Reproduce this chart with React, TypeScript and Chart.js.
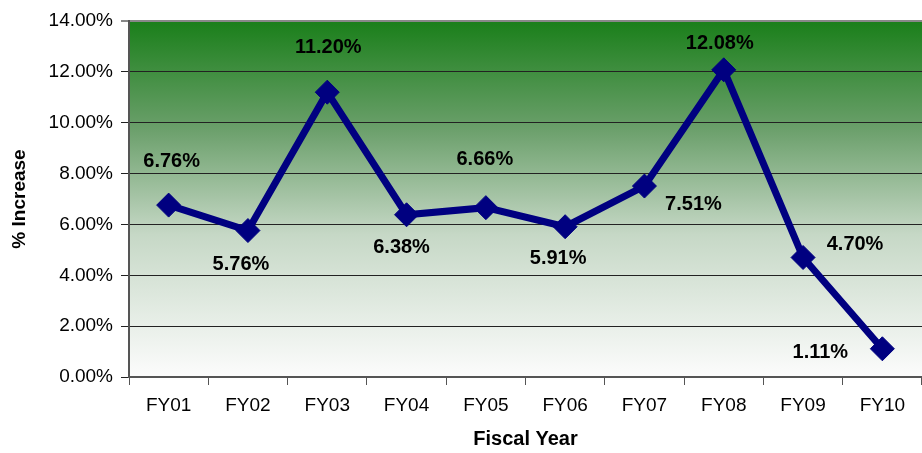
import React, { useEffect, useRef } from "react";
import { Chart, registerables } from "chart.js";

Chart.register(...registerables);

const categories = ["FY01", "FY02", "FY03", "FY04", "FY05", "FY06", "FY07", "FY08", "FY09", "FY10"];
const increases = [6.76, 5.76, 11.2, 6.38, 6.66, 5.91, 7.51, 12.08, 4.7, 1.11];
const yTicks = [0, 2, 4, 6, 8, 10, 12, 14];
// label offsets (dx, dy) relative to each point
const labelDx = [3, -7, 1, -5, -1, -7, 49, -4, 52, -62];
const labelDy = [-44, 34, -45, 33, -48, 32, 18, -26, -13, 4];

const FONT = "'Liberation Sans', Arial, sans-serif";

const bgPlugin = {
  id: "bgGradient",
  beforeDraw(chart: any) {
    const { ctx, chartArea } = chart;
    if (!chartArea) return;
    const g = ctx.createLinearGradient(0, chartArea.top, 0, chartArea.bottom);
    g.addColorStop(0, "#1a7f1a");
    g.addColorStop(0.3, "#6a9f6a");
    g.addColorStop(0.6, "#c6d8c6");
    g.addColorStop(1, "#fcfcfc");
    ctx.save();
    ctx.fillStyle = g;
    ctx.fillRect(chartArea.left, chartArea.top, chartArea.right - chartArea.left, chartArea.bottom - chartArea.top);
    ctx.restore();
  },
};

const labelPlugin = {
  id: "pointLabels",
  afterDatasetsDraw(chart: any) {
    const { ctx } = chart;
    const meta = chart.getDatasetMeta(0);
    ctx.save();
    ctx.font = `bold 20px ${FONT}`;
    ctx.fillStyle = "#000";
    ctx.textAlign = "center";
    ctx.textBaseline = "middle";
    meta.data.forEach((pt: any, i: number) => {
      const v = increases[i];
      ctx.fillText(v.toFixed(2) + "%", pt.x + labelDx[i], pt.y + labelDy[i]);
    });
    ctx.restore();
  },
};

export default function App() {
  const ref = useRef<HTMLCanvasElement | null>(null);
  useEffect(() => {
    document.body.style.margin = "0";
    const chart = new Chart(ref.current as HTMLCanvasElement, {
      type: "line",
      data: {
        labels: categories,
        datasets: [
          {
            data: increases,
            borderColor: "#000080",
            backgroundColor: "#000080",
            borderWidth: 7,
            pointStyle: "rectRot",
            pointRadius: 12,
            pointBorderWidth: 1,
            pointBackgroundColor: "#000080",
            pointBorderColor: "#000080",
            tension: 0,
            clip: false,
          },
        ],
      },
      options: {
        responsive: false,
        animation: false,
        layout: { autoPadding: false, padding: { top: 21, right: 0, left: 0, bottom: 0 } },
        plugins: { legend: { display: false }, tooltip: { enabled: false } },
        scales: {
          x: {
            offset: true,
            grid: {
              offset: true,
              drawOnChartArea: false,
              drawTicks: true,
              tickLength: 8,
              color: "#555",
            },
            border: { color: "#555", width: 2 },
            ticks: { color: "#000", font: { family: FONT, size: 19 }, padding: 9, maxRotation: 0 },
            title: {
              display: true,
              text: "Fiscal Year",
              color: "#000",
              font: { family: FONT, size: 20, weight: "bold" },
              padding: { top: 0, bottom: 2 },
            },
            afterFit(scale: any) {
              scale.height = 76;
              scale.paddingLeft = 0;
              scale.paddingRight = 0;
            },
          },
          y: {
            min: 0,
            max: 14,
            afterBuildTicks(scale: any) {
              scale.ticks = yTicks.map((v) => ({ value: v }));
            },
            grid: {
              color: (c: any) => (c.tick && c.tick.value === 14 ? "#888" : "#222"),
              lineWidth: (c: any) => (c.tick && c.tick.value === 14 ? 2 : 1),
              drawTicks: true,
              tickLength: 8,
            },
            border: { color: "#555", width: 2 },
            ticks: {
              color: "#000",
              font: { family: FONT, size: 19 },
              padding: 8,
              callback: (v: any) => Number(v).toFixed(2) + "%",
            },
            title: {
              display: true,
              text: "% Increase",
              color: "#000",
              font: { family: FONT, size: 19, weight: "bold" },
              padding: { top: 8, bottom: 0 },
            },
            afterFit(scale: any) {
              scale.width = 129;
            },
          },
        },
      },
      plugins: [bgPlugin, labelPlugin],
    } as any);
    return () => chart.destroy();
  }, []);
  return (
    <div style={{ position: "absolute", left: 0, top: 0, width: 922, height: 453 }}>
      <canvas ref={ref} width={922} height={453} style={{ width: 922, height: 453 }} />
    </div>
  );
}
